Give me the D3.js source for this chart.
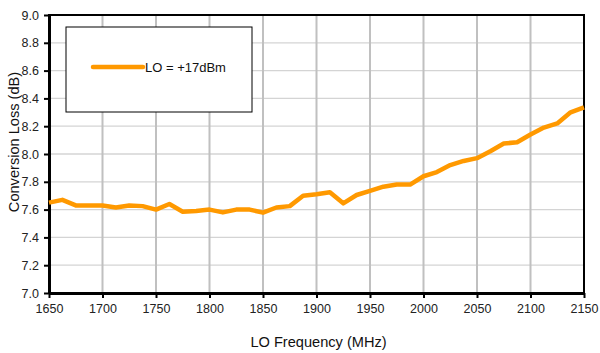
<!DOCTYPE html>
<html><head><meta charset="utf-8">
<script src="https://cdn.jsdelivr.net/npm/d3@7/dist/d3.min.js"></script>
<style>
html,body{margin:0;padding:0;background:#fff;}
svg{display:block;font-family:"Liberation Sans",Arial,sans-serif;}
</style></head>
<body>
<svg id="chart" width="600" height="353"></svg>
<script>
const freqs = [1650,1662.5,1675,1687.5,1700,1712.5,1725,1737.5,1750,1762.5,1775,1787.5,1800,1812.5,1825,1837.5,1850,1862.5,1875,1887.5,1900,1912.5,1925,1937.5,1950,1962.5,1975,1987.5,2000,2012.5,2025,2037.5,2050,2062.5,2075,2087.5,2100,2112.5,2125,2137.5,2150];
const loss17 = [7.65,7.67,7.63,7.63,7.63,7.615,7.63,7.625,7.60,7.64,7.585,7.59,7.60,7.58,7.60,7.60,7.578,7.615,7.625,7.70,7.71,7.725,7.645,7.705,7.735,7.765,7.78,7.78,7.84,7.87,7.92,7.95,7.97,8.02,8.075,8.085,8.14,8.19,8.22,8.30,8.335];
const xTicks = [1650,1700,1750,1800,1850,1900,1950,2000,2050,2100,2150];
const yTicks = [7.0,7.2,7.4,7.6,7.8,8.0,8.2,8.4,8.6,8.8,9.0];
const seriesName = "LO = +17dBm";
const xTitle = "LO Frequency (MHz)";
const yTitle = "Conversion Loss (dB)";

const svg = d3.select("#chart");
const L = 49, R = 584, T = 15, B = 293;
const x = d3.scaleLinear().domain([1650,2150]).range([L,R]);
const y = d3.scaleLinear().domain([7.0,9.0]).range([B,T]);

// horizontal gridlines
svg.append("g").selectAll("line").data(yTicks.slice(1,-1)).join("line")
  .attr("x1",L).attr("x2",R).attr("y1",d=>y(d)).attr("y2",d=>y(d))
  .attr("stroke","#d4d4d4").attr("stroke-width",1.3);
// vertical gridlines
svg.append("g").selectAll("line").data(xTicks.slice(1,-1)).join("line")
  .attr("x1",d=>x(d)).attr("x2",d=>x(d)).attr("y1",T).attr("y2",B)
  .attr("stroke","#c0c0c0").attr("stroke-width",2);

// plot border
svg.append("rect").attr("x",L).attr("y",T).attr("width",R-L).attr("height",B-T)
  .attr("fill","none").attr("stroke","#000").attr("stroke-width",2);

// axes
const xAxis = d3.axisBottom(x).tickValues(xTicks).tickFormat(d3.format("d")).tickSizeOuter(0).tickSizeInner(5).tickPadding(6);
const gx = svg.append("g").attr("transform",`translate(0,${B})`).call(xAxis);
gx.select(".domain").attr("stroke","#000").attr("stroke-width",3);
gx.selectAll(".tick line").attr("stroke","#000").attr("stroke-width",2);
gx.selectAll("text").attr("font-size","12.5px").attr("fill","#222").attr("font-family","Liberation Sans, Arial, sans-serif");

const yAxis = d3.axisLeft(y).tickValues(yTicks).tickFormat(d3.format(".1f")).tickSizeOuter(0).tickSizeInner(5).tickPadding(5);
const gy = svg.append("g").attr("transform",`translate(${L},0)`).call(yAxis);
gy.select(".domain").attr("stroke","#000").attr("stroke-width",3);
gy.selectAll(".tick line").attr("stroke","#000").attr("stroke-width",2);
gy.selectAll("text").attr("font-size","12.5px").attr("fill","#222").attr("font-family","Liberation Sans, Arial, sans-serif");

// line
const line = d3.line().x((d,i)=>x(freqs[i])).y(d=>y(d));
svg.append("path").datum(loss17).attr("d",line)
  .attr("fill","none").attr("stroke","#FF9900").attr("stroke-width",4.5)
  .attr("stroke-linejoin","round").attr("stroke-linecap","butt");

// legend
const lg = svg.append("g");
lg.append("rect").attr("x",66).attr("y",27).attr("width",186).attr("height",85)
  .attr("fill","#fff").attr("stroke","#000").attr("stroke-width",1);
lg.append("line").attr("x1",93).attr("x2",143).attr("y1",67).attr("y2",67)
  .attr("stroke","#FF9900").attr("stroke-width",4.5).attr("stroke-linecap","round");
lg.append("text").attr("x",145).attr("y",72).attr("font-size","13px").attr("fill","#111").text(seriesName);

// titles
svg.append("text").attr("x",318.5).attr("y",347).attr("text-anchor","middle")
  .attr("font-size","14.6px").attr("fill","#111").text(xTitle);
svg.append("text").attr("transform",`translate(19,142) rotate(-90)`).attr("text-anchor","middle")
  .attr("font-size","14.6px").attr("fill","#111").text(yTitle);
</script>
</body></html>
